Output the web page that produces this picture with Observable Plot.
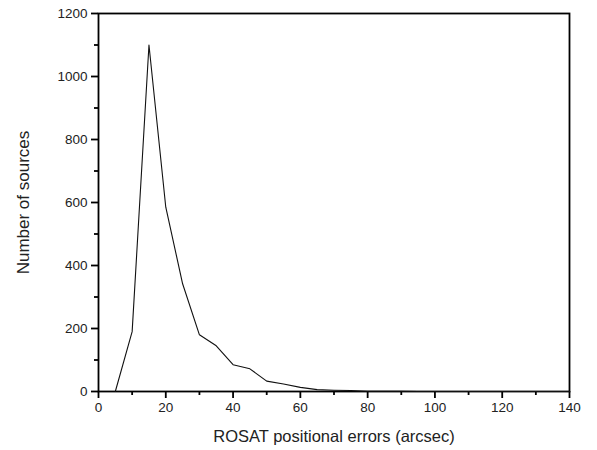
<!DOCTYPE html>
<html>
<head>
<meta charset="utf-8">
<script src="https://cdn.jsdelivr.net/npm/d3@7"></script>
<script src="https://cdn.jsdelivr.net/npm/@observablehq/plot@0.6"></script>
<style>
  html, body { margin: 0; padding: 0; background: #fff; }
  svg { font-family: "Liberation Sans", Arial, sans-serif; }
  g[aria-label="x-axis tick label"] text, g[aria-label="y-axis tick label"] text { font-size: 13.5px; fill: #222; }
  g[aria-label="x-axis label"] text { font-size: 16.5px; fill: #222; }
  g[aria-label="y-axis label"] text { font-size: 17px; fill: #222; }
</style>
</head>
<body>
<div id="chart"></div>
<script>
const errors = [5, 10, 15, 20, 25, 30, 35, 40, 45, 50, 55, 60, 65, 70, 75, 80, 85, 90, 95, 100, 105, 110, 115, 120, 125, 130, 135, 140];
const counts = [0, 190, 1100, 585, 342, 180, 145, 85, 72, 33, 24, 13, 6, 4, 3, 1, 1, 1, 0, 0, 0, 0, 0, 0, 0, 0, 0, 0];
const xMajorTicks = [0, 20, 40, 60, 80, 100, 120, 140];
const xMinorTicks = [10, 30, 50, 70, 90, 110, 130];
const yMajorTicks = [0, 200, 400, 600, 800, 1000, 1200];
const yMinorTicks = [100, 300, 500, 700, 900, 1100];
const xTitle = "ROSAT positional errors (arcsec)";
const yTitle = "Number of sources";

const data = errors.map((e, i) => ({x: e, y: counts[i]}));

const chart = Plot.plot({
  width: 597,
  height: 450,
  marginLeft: 98,
  marginRight: 28,
  marginTop: 13,
  marginBottom: 59,
  style: {fontFamily: "Liberation Sans, Arial, sans-serif", color: "#000", background: "#fff"},
  x: {domain: [0, 140]},
  y: {domain: [0, 1200]},
  marks: [
    Plot.ruleX(xMajorTicks, {x: d => d, y1: 0, y2: 0, insetBottom: -7, stroke: "#000", strokeWidth: 1.8}),
    Plot.ruleX(xMinorTicks, {x: d => d, y1: 0, y2: 0, insetBottom: -4, stroke: "#000", strokeWidth: 1.8}),
    Plot.ruleY(yMajorTicks, {y: d => d, x1: 0, x2: 0, insetLeft: -7, stroke: "#000", strokeWidth: 1.8}),
    Plot.ruleY(yMinorTicks, {y: d => d, x1: 0, x2: 0, insetLeft: -4, stroke: "#000", strokeWidth: 1.8}),
    Plot.frame({stroke: "#000", strokeWidth: 1.8}),
    Plot.axisX({ticks: xMajorTicks, tickSize: 0, tickPadding: 11, tickFormat: d3.format("d"),
      label: xTitle, labelAnchor: "center", labelArrow: "none", labelOffset: 50}),
    Plot.axisY({ticks: yMajorTicks, tickSize: 0, tickPadding: 11, tickFormat: d3.format("d"),
      label: yTitle, labelAnchor: "center", labelArrow: "none", labelOffset: 82}),
    Plot.line(data, {x: "x", y: "y", stroke: "#111", strokeWidth: 1.1})
  ]
});
document.getElementById("chart").appendChild(chart);
</script>
</body>
</html>
